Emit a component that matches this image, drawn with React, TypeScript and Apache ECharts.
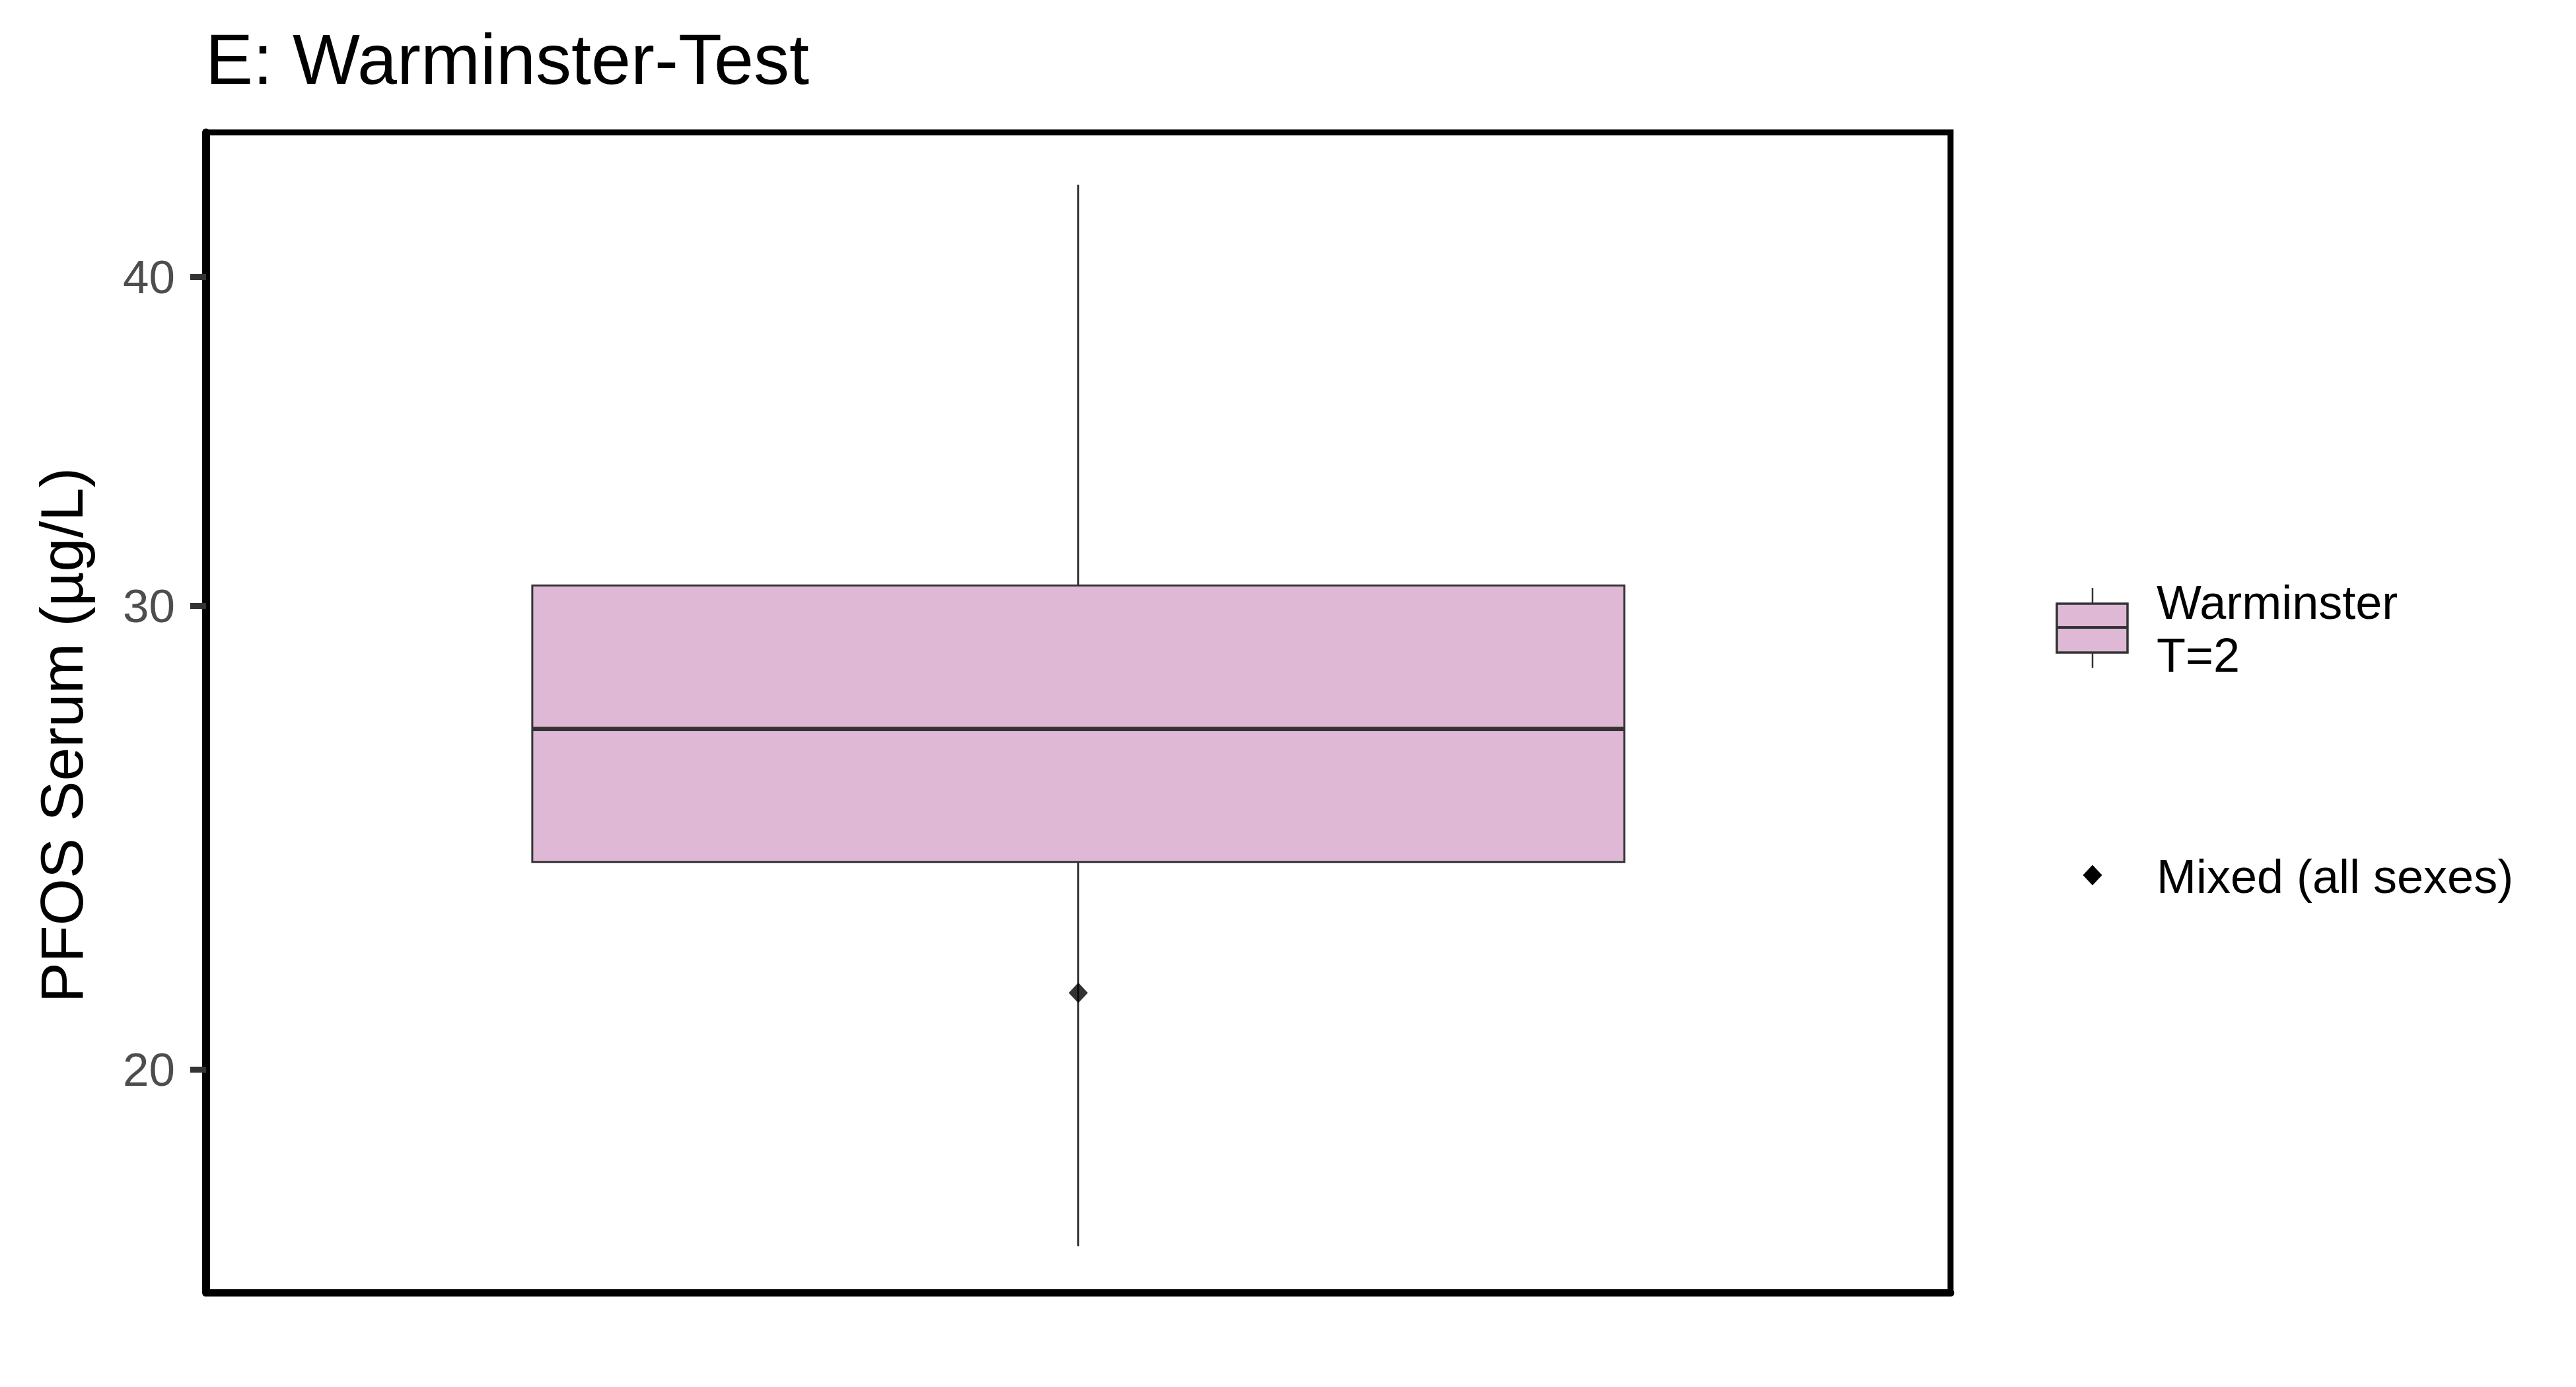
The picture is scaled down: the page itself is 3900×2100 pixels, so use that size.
import React, { useEffect, useRef } from "react";
import * as echarts from "echarts";

// ---- data ----
const categories = ["Warminster"];
// [lowerWhisker, q1, median, q3, upperWhisker] in µg/L
const boxValues = [[17.14, 23.98, 26.94, 30.54, 43.35]];
const meanValues = [21.39];
const yTickValues = [20, 30, 40];
const yRange = [16.46, 45.38];
const legendBoxLabel = "Warminster\nT=2";
const legendPointLabel = "Mixed (all sexes)";
const titleText = "E: Warminster-Test";
const yAxisTitle = "PFOS Serum (µg/L)";

const FONT = "'Liberation Sans', Arial, Helvetica, sans-serif";
const BOX_FILL = "#DFB8D6";
const LINE = "#333333";
const BOX_FRAC = 0.626;

const lg = (v: number) => Math.log10(v);

export default function App() {
  const ref = useRef<HTMLDivElement>(null);
  useEffect(() => {
    if (!ref.current) return;
    const chart = echarts.init(ref.current, undefined, { renderer: "svg" });
    const boxData = boxValues.map((b, i) => [i, ...b.map(lg)]);
    const meanData = meanValues.map((m, i) => [i, lg(m)]);

    const option: any = {
      animation: false,
      backgroundColor: "#ffffff",
      title: {
        text: titleText,
        left: 311,
        top: 35,
        padding: 0,
        textStyle: {
          fontFamily: FONT,
          fontSize: 108,
          fontWeight: "normal",
          color: "#000000",
          lineHeight: 108,
        },
      },
      grid: {
        left: 312,
        top: 200.5,
        right: 947,
        bottom: 143,
        show: true,
        borderColor: "#000000",
        borderWidth: 9,
        backgroundColor: "transparent",
        containLabel: false,
      },
      xAxis: {
        type: "category",
        data: categories,
        axisLabel: { show: false },
        axisTick: { show: false },
        axisLine: { show: true, lineStyle: { color: "#000000", width: 11 } },
        splitLine: { show: false },
      },
      yAxis: {
        type: "value",
        min: lg(yRange[0]),
        max: lg(yRange[1]),
        axisLine: { show: true, lineStyle: { color: "#000000", width: 12 } },
        axisTick: {
          show: true,
          length: 24,
          customValues: yTickValues.map(lg),
          lineStyle: { color: LINE, width: 9 },
        },
        axisLabel: {
          show: true,
          customValues: yTickValues.map(lg),
          formatter: (v: number) => String(Math.round(Math.pow(10, v))),
          fontFamily: FONT,
          fontSize: 71,
          color: "#4D4D4D",
          margin: 47,
        },
        splitLine: { show: false },
      },
      series: [
        {
          type: "custom",
          name: "Warminster",
          data: boxData,
          encode: { x: 0, y: [1, 2, 3, 4, 5] },
          renderItem: (params: any, api: any) => {
            const x = api.value(0);
            const lo = api.coord([x, api.value(1)]);
            const q1 = api.coord([x, api.value(2)]);
            const med = api.coord([x, api.value(3)]);
            const q3 = api.coord([x, api.value(4)]);
            const hi = api.coord([x, api.value(5)]);
            const bw = api.size([1, 0])[0] * BOX_FRAC;
            const cx = q1[0];
            return {
              type: "group",
              children: [
                {
                  type: "line",
                  shape: { x1: cx, y1: q3[1], x2: cx, y2: hi[1] },
                  style: { stroke: LINE, lineWidth: 3 },
                },
                {
                  type: "line",
                  shape: { x1: cx, y1: q1[1], x2: cx, y2: lo[1] },
                  style: { stroke: LINE, lineWidth: 3 },
                },
                {
                  type: "rect",
                  shape: { x: cx - bw / 2, y: q3[1], width: bw, height: q1[1] - q3[1] },
                  style: { fill: BOX_FILL, stroke: LINE, lineWidth: 3 },
                },
                {
                  type: "line",
                  shape: { x1: cx - bw / 2, y1: med[1], x2: cx + bw / 2, y2: med[1] },
                  style: { stroke: LINE, lineWidth: 6.5 },
                },
              ],
            };
          },
          z: 2,
        },
        {
          type: "scatter",
          name: "Mixed (all sexes)",
          data: meanData,
          symbol: "diamond",
          symbolSize: [29, 31],
          itemStyle: { color: "#000000" },
          z: 3,
        },
      ],
      graphic: [
        {
          type: "text",
          x: 93,
          y: 1113,
          rotation: Math.PI / 2,
          style: {
            text: yAxisTitle,
            fontFamily: FONT,
            fontSize: 91.5,
            fill: "#000000",
            align: "center",
            verticalAlign: "middle",
          },
        },
        // legend: box key
        {
          type: "line",
          shape: { x1: 3168, y1: 890, x2: 3168, y2: 1011 },
          style: { stroke: LINE, lineWidth: 2.5 },
        },
        {
          type: "rect",
          shape: { x: 3114, y: 914, width: 107, height: 74 },
          style: { fill: BOX_FILL, stroke: LINE, lineWidth: 3.5 },
        },
        {
          type: "line",
          shape: { x1: 3114, y1: 950, x2: 3221, y2: 950 },
          style: { stroke: LINE, lineWidth: 4 },
        },
        {
          type: "text",
          x: 3265,
          y: 872,
          style: {
            text: legendBoxLabel,
            fontFamily: FONT,
            fontSize: 72,
            lineHeight: 80,
            fill: "#000000",
            align: "left",
            verticalAlign: "top",
          },
        },
        // legend: diamond key
        {
          type: "polygon",
          shape: {
            points: [
              [3168, 1309.5],
              [3182.5, 1325],
              [3168, 1340.5],
              [3153.5, 1325],
            ],
          },
          style: { fill: "#000000" },
        },
        {
          type: "text",
          x: 3265,
          y: 1327,
          style: {
            text: legendPointLabel,
            fontFamily: FONT,
            fontSize: 72,
            fill: "#000000",
            align: "left",
            verticalAlign: "middle",
          },
        },
      ],
    };
    chart.setOption(option);
    return () => chart.dispose();
  }, []);
  return (
    <div
      ref={ref}
      style={{ position: "fixed", left: 0, top: 0, width: 3900, height: 2100, background: "#fff" }}
    />
  );
}
